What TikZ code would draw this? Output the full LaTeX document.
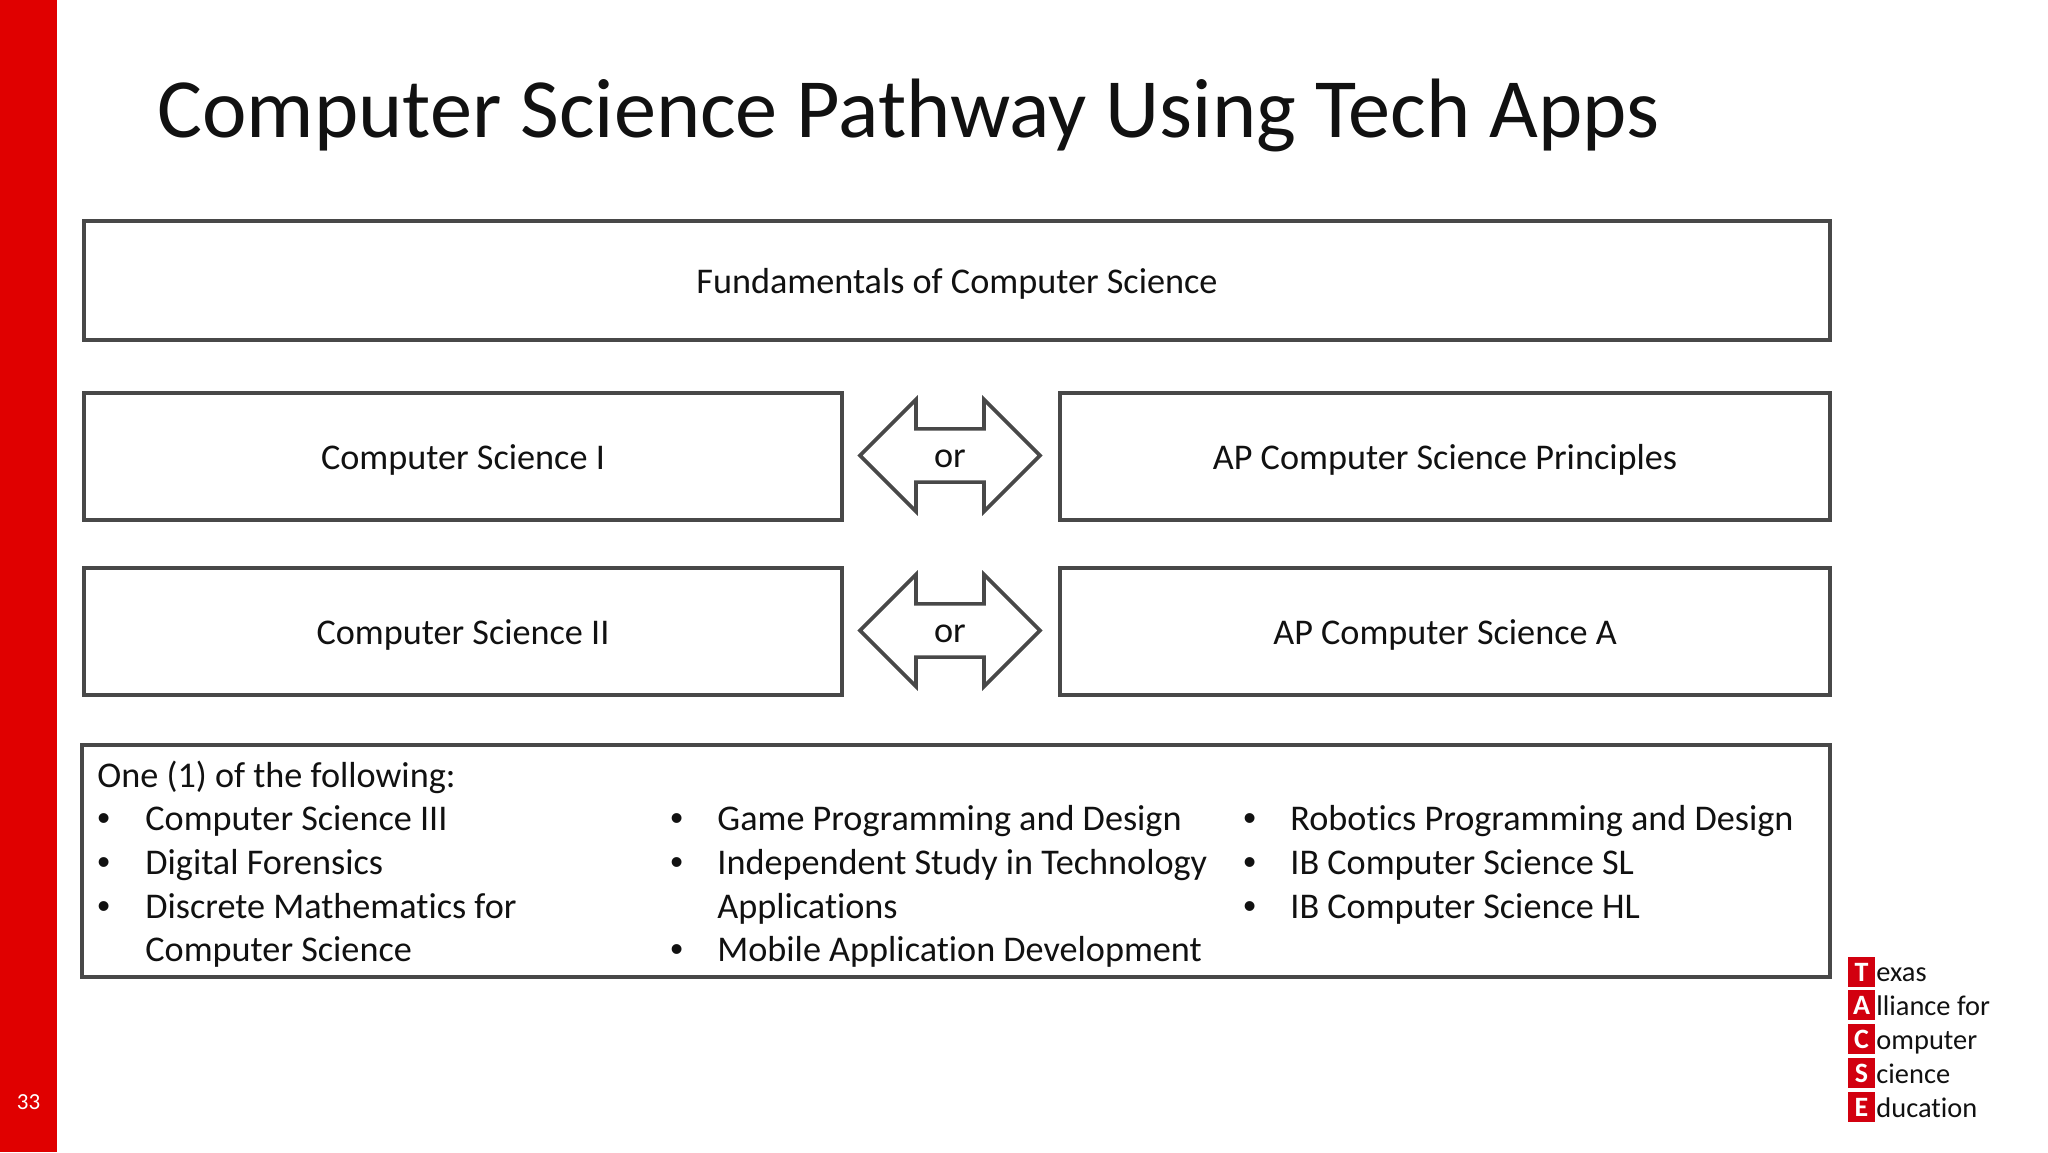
\documentclass[tikz,border=0pt]{standalone}
\usepackage{fontspec}
\setmainfont[Ligatures=NoCommon]{Carlito}
\newfontfamily\bulletfont{Liberation Sans}
\usetikzlibrary{shapes.arrows}
\definecolor{barred}{HTML}{E00000}
\definecolor{logored}{HTML}{D2000F}
\definecolor{edge}{HTML}{484848}
\definecolor{ink}{HTML}{111111}
\tikzset{
  coursebox/.style={draw=edge,line width=2pt,fill=white,inner sep=0pt,font=\fontsize{18.1}{22}\selectfont,text=ink,text height=15.2pt,text depth=1.8pt},
  orarrow/.style={draw=edge,line width=1.8pt,fill=white,double arrow,double arrow tip angle=90,double arrow head extend=10pt,minimum height=90pt,minimum width=56pt,inner sep=0pt,font=\fontsize{18.1}{22}\selectfont,text=ink,text height=14pt,text depth=2.4pt},
  listline/.style={anchor=base west,inner sep=0pt,font=\fontsize{18.1}{22}\selectfont,text=ink},
  tacsebox/.style={fill=logored,minimum width=13.5pt,minimum height=15pt,inner sep=0pt,text=white,font=\fontsize{14}{15}\selectfont\bfseries,text height=9pt,text depth=0pt},
  tacseword/.style={anchor=base west,inner sep=0pt,font=\fontsize{14.2}{16}\selectfont,text=ink},
}
\newcommand{\bulletmark}{{\bulletfont •}}
\begin{document}
\begin{tikzpicture}[x=0.5pt,y=-0.5pt]
\useasboundingbox (0,0) rectangle (2048,1152);
\fill[white] (0,0) rectangle (2048,1152);
\fill[barred] (0,0) rectangle (57,1152);
\node[inner sep=0pt,text=white,font=\fontsize{11.5}{13}\selectfont] (pageno) at (28.5,1102.5) {33};
\node[anchor=base west,inner sep=0pt,text=ink,font=\fontsize{42.15}{50}\selectfont] (title) at (157,137) {Computer Science Pathway Using Tech Apps};
\node[coursebox,minimum width=873pt,minimum height=59.5pt] (fund) at (957,280.5) {Fundamentals of Computer Science};
\node[coursebox,minimum width=379pt,minimum height=63.5pt] (cs1) at (463,456.5) {Computer Science I};
\node[coursebox,minimum width=385pt,minimum height=63.5pt] (apcsp) at (1445,456.5) {AP Computer Science Principles};
\node[coursebox,minimum width=379pt,minimum height=63.5pt] (cs2) at (463,631.5) {Computer Science II};
\node[coursebox,minimum width=385pt,minimum height=63.5pt] (apcsa) at (1445,631.5) {AP Computer Science A};
\node[orarrow] (or1) at (950,455.5) {or};
\node[orarrow] (or2) at (950,630.5) {or};
\node[draw=edge,line width=2pt,fill=white,minimum width=874pt,minimum height=116pt,inner sep=0pt] (list) at (956,861) {};
% first column
\node[listline] (head) at (97,787) {One (1) of the following:};
\node[listline] (b1) at (97,830) {\bulletmark};
\node[listline] (a1) at (145,830) {Computer Science III};
\node[listline] (b2) at (97,874) {\bulletmark};
\node[listline] (a2) at (145,874) {Digital Forensics};
\node[listline] (b3) at (97,918) {\bulletmark};
\node[listline] (a3) at (145,918) {Discrete Mathematics for};
\node[listline] (a4) at (145,961.5) {Computer Science};
% second column
\node[listline] (b4) at (670,830) {\bulletmark};
\node[listline] (c1) at (717,830) {Game Programming and Design};
\node[listline] (b5) at (670,874) {\bulletmark};
\node[listline] (c2) at (717,874) {Independent Study in Technology};
\node[listline] (c3) at (717,918) {Applications};
\node[listline] (b6) at (670,961.5) {\bulletmark};
\node[listline] (c4) at (717,961.5) {Mobile Application Development};
% third column
\node[listline] (b7) at (1243,830) {\bulletmark};
\node[listline] (d1) at (1290,830) {Robotics Programming and Design};
\node[listline] (b8) at (1243,874) {\bulletmark};
\node[listline] (d2) at (1290,874) {IB Computer Science SL};
\node[listline] (b9) at (1243,918) {\bulletmark};
\node[listline] (d3) at (1290,918) {IB Computer Science HL};
% logo
\node[tacsebox] (lt) at (1861.5,972) {T};
\node[tacsebox] (la) at (1861.5,1005) {A};
\node[tacsebox] (lc) at (1861.5,1039) {C};
\node[tacsebox] (ls) at (1861.5,1073) {S};
\node[tacsebox] (le) at (1861.5,1107) {E};
\node[tacseword] (wt) at (1876,981) {exas};
\node[tacseword] (wa) at (1876,1015) {lliance for};
\node[tacseword] (wc) at (1876,1049) {omputer};
\node[tacseword] (ws) at (1876,1083) {cience};
\node[tacseword] (we) at (1876,1117) {ducation};
\end{tikzpicture}
\end{document}
